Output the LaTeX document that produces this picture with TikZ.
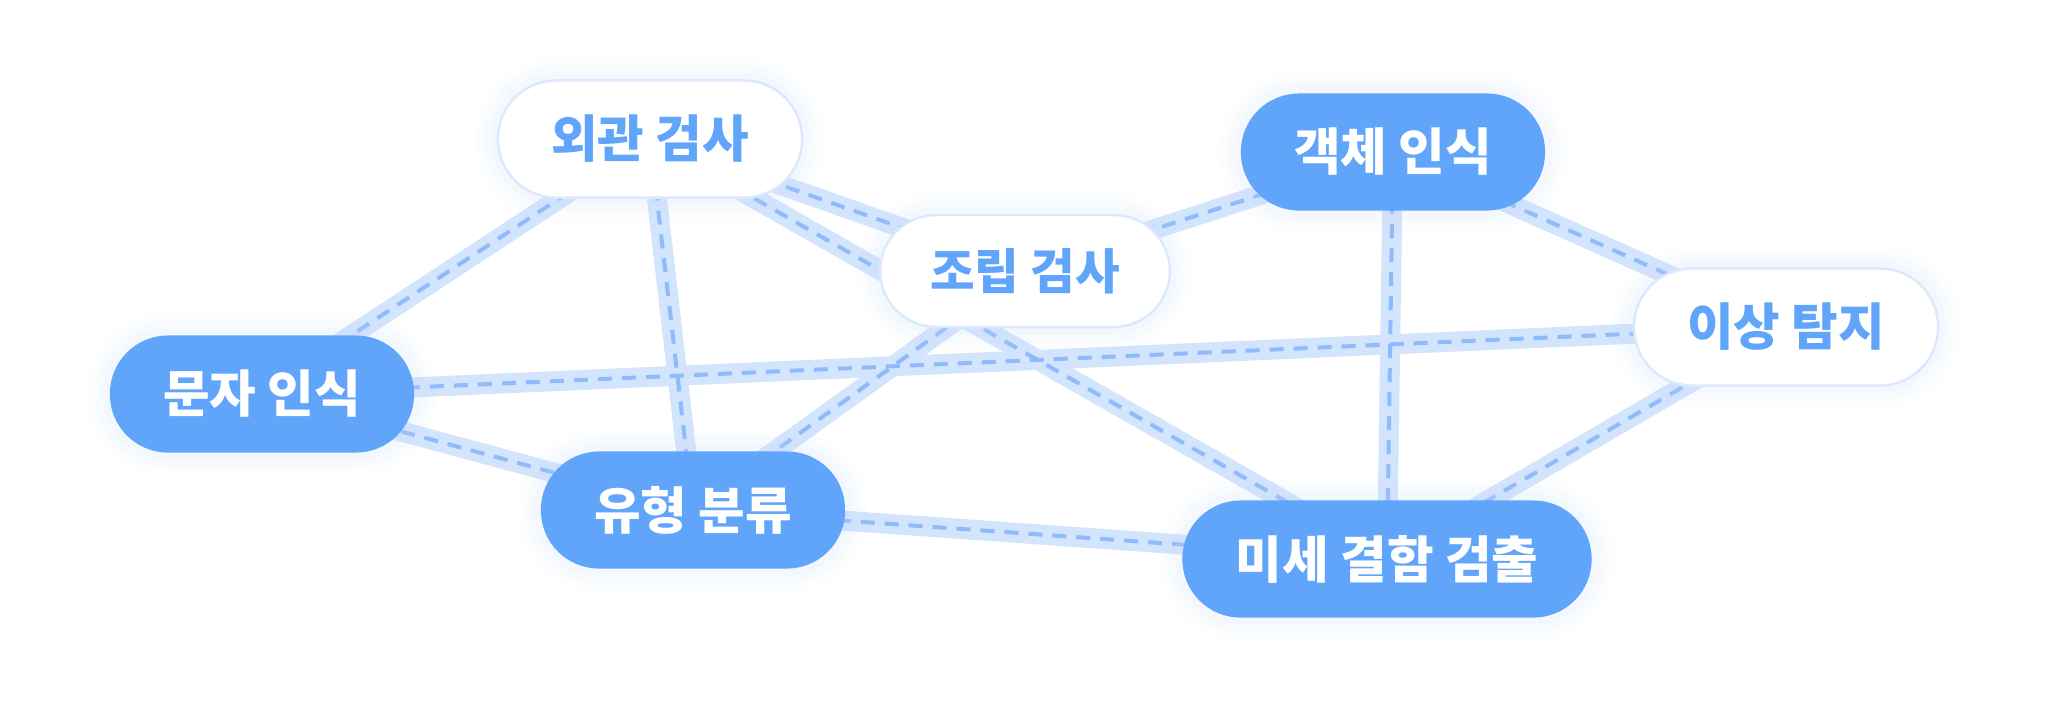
\documentclass[tikz,border=0pt]{standalone}
\usepackage{fontspec}
\newfontfamily\krfont{Noto Sans CJK KR}[RawFeature=+palt]
\usetikzlibrary{backgrounds}
\definecolor{Accent}{HTML}{60A5FA}
\definecolor{Band}{HTML}{D3E4FD}
\definecolor{Dash}{HTML}{8DBBFB}
\definecolor{Rim}{HTML}{DCE9FD}
\definecolor{Halo}{HTML}{CFE1FE}
\tikzset{
  halo/.style={preaction={draw=Halo,draw opacity=0.05,line width=0.44cm},
    preaction={draw=Halo,draw opacity=0.07,line width=0.30cm},
    preaction={draw=Halo,draw opacity=0.10,line width=0.16cm}},
  primary/.style={halo,fill=Accent,rounded corners=0.58cm,minimum width=3.04cm,minimum height=1.17cm,inner xsep=0.5cm,font=\krfont\bfseries\fontsize{14.4pt}{17pt}\selectfont,text=white},
  secondary/.style={primary,fill=white,draw=Rim,line width=0.7pt,text=Accent},
  band/.style={draw=Band,line width=0.2cm},
  dashline/.style={draw=Dash,line width=0.04cm,dash pattern=on 0.14cm off 0.1cm}
}
\begin{document}
\begin{tikzpicture}[x=0.01cm,y=-0.01cm]
  \useasboundingbox (0,0) rectangle (2048,711);
  \node[secondary] (visual) at (650,139) {외관 검사};
  \node[primary] (object) at (1393,152) {객체 인식};
  \node[secondary,minimum width=2.85cm,minimum height=1.12cm,rounded corners=0.56cm,font=\krfont\bfseries\fontsize{13.8pt}{16pt}\selectfont] (assembly) at (1025,271) {조립 검사};
  \node[secondary] (anomaly) at (1786,327) {이상 탐지};
  \node[primary] (ocr) at (262,394) {문자 인식};
  \node[primary] (classify) at (693,510) {유형 분류};
  \node[primary,minimum width=4.09cm] (defect) at (1387,559) {미세 결함 검출};
  \begin{scope}[on background layer]
    \fill[white] (0,0) rectangle (2048,711);
    \def\links{visual/ocr,visual/classify,visual/assembly,visual/defect,assembly/object,assembly/classify,object/anomaly,object/defect,ocr/anomaly,ocr/classify,classify/defect,anomaly/defect}
    \foreach \a/\b in \links
      \draw[band] (\a.center) -- (\b.center);
    \foreach \a/\b in \links
      \draw[dashline] (\a.center) -- (\b.center);
  \end{scope}
\end{tikzpicture}
\end{document}
